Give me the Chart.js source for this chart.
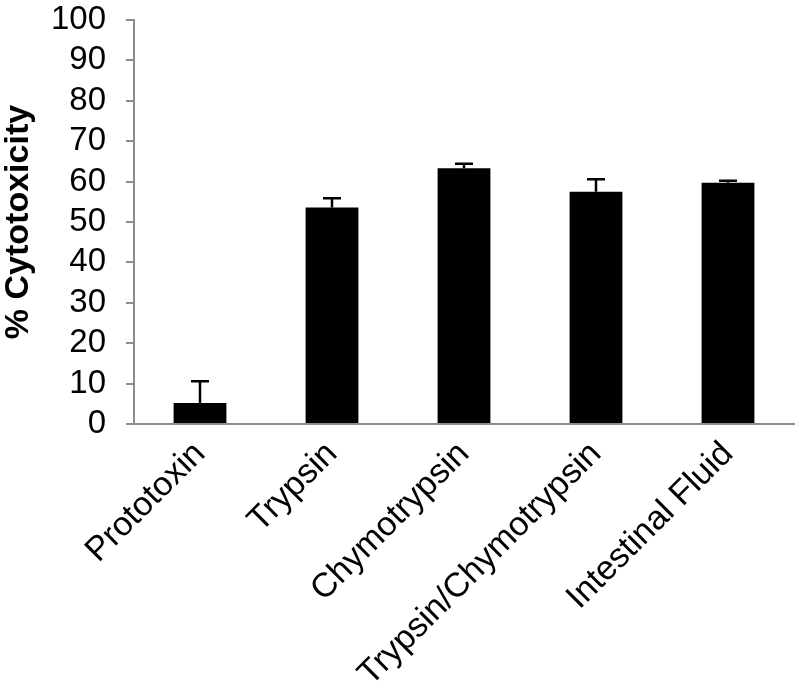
<!DOCTYPE html>
<html>
<head>
<meta charset="utf-8">
<script src="https://cdn.jsdelivr.net/npm/chart.js@4.4.1/dist/chart.umd.min.js"></script>
<style>
    html, body { margin: 0; padding: 0; background: #fff; }
    #wrap { width: 800px; height: 696px; }
</style>
</head>
<body>
<div id="wrap"><canvas id="myChart" width="800" height="696"></canvas></div>
<script>
// values
const categories = ['Prototoxin', 'Trypsin', 'Chymotrypsin', 'Trypsin/Chymotrypsin', 'Intestinal Fluid'];
const cytotoxicity = [5.2, 53.6, 63.3, 57.5, 59.7];
const errorUp = [5.4, 2.3, 1.1, 3.1, 0.5];
const yTicks = [0, 10, 20, 30, 40, 50, 60, 70, 80, 90, 100];

const axisGray = '#8c8c8c';
const fontFamily = '"Liberation Sans", Arial, sans-serif';

// draws the upper error bars from the bar tops
const errorBars = {
    id: 'errorBars',
    afterDatasetsDraw: function (chart) {
        const ctx = chart.ctx;
        const yScale = chart.scales.y;
        const meta = chart.getDatasetMeta(0);
        ctx.save();
        ctx.strokeStyle = '#000';
        ctx.lineWidth = 2.5;
        meta.data.forEach(function (bar, i) {
            const top = yScale.getPixelForValue(cytotoxicity[i]);
            const end = yScale.getPixelForValue(cytotoxicity[i] + errorUp[i]);
            ctx.beginPath();
            ctx.moveTo(bar.x, top);
            ctx.lineTo(bar.x, end);
            ctx.moveTo(bar.x - 9, end);
            ctx.lineTo(bar.x + 9, end);
            ctx.stroke();
        });
        ctx.restore();
    }
};

const data = {
    labels: categories,
    datasets: [{
        label: '% Cytotoxicity',
        data: cytotoxicity,
        backgroundColor: '#000',
        borderWidth: 0,
        barPercentage: 0.4,
        categoryPercentage: 1.0
    }]
};

const options = {
    responsive: false,
    animation: false,
    layout: { padding: { top: 20, right: 6, left: 0, bottom: 0 } },
    plugins: {
        legend: { display: false },
        tooltip: { enabled: false }
    },
    scales: {
        x: {
            grid: { display: false },
            border: { color: axisGray, width: 2 },
            ticks: {
                color: '#000',
                font: { family: fontFamily, size: 34 },
                minRotation: 45,
                maxRotation: 45,
                autoSkip: false,
                padding: 2
            },
            afterFit: function (scale) { scale.height = 272; }
        },
        y: {
            min: 0,
            max: 100,
            afterBuildTicks: function (scale) {
                scale.ticks = yTicks.map(v => ({ value: v }));
            },
            grid: {
                drawOnChartArea: false,
                drawTicks: true,
                tickLength: 8,
                color: axisGray,
                lineWidth: 2
            },
            border: { color: axisGray, width: 2 },
            ticks: {
                color: '#000',
                font: { family: fontFamily, size: 33 },
                autoSkip: false,
                padding: 20
            },
            title: {
                display: true,
                text: '% Cytotoxicity',
                color: '#000',
                font: { family: fontFamily, size: 34, weight: 'bold' },
                padding: { top: -2, bottom: 0 }
            },
            afterFit: function (scale) {
                scale.width = 134;
                scale.paddingTop = 0;
                scale.paddingBottom = 0;
            }
        }
    }
};

new Chart(document.getElementById('myChart'), {
    type: 'bar',
    data: data,
    options: options,
    plugins: [errorBars]
});
</script>
</body>
</html>
